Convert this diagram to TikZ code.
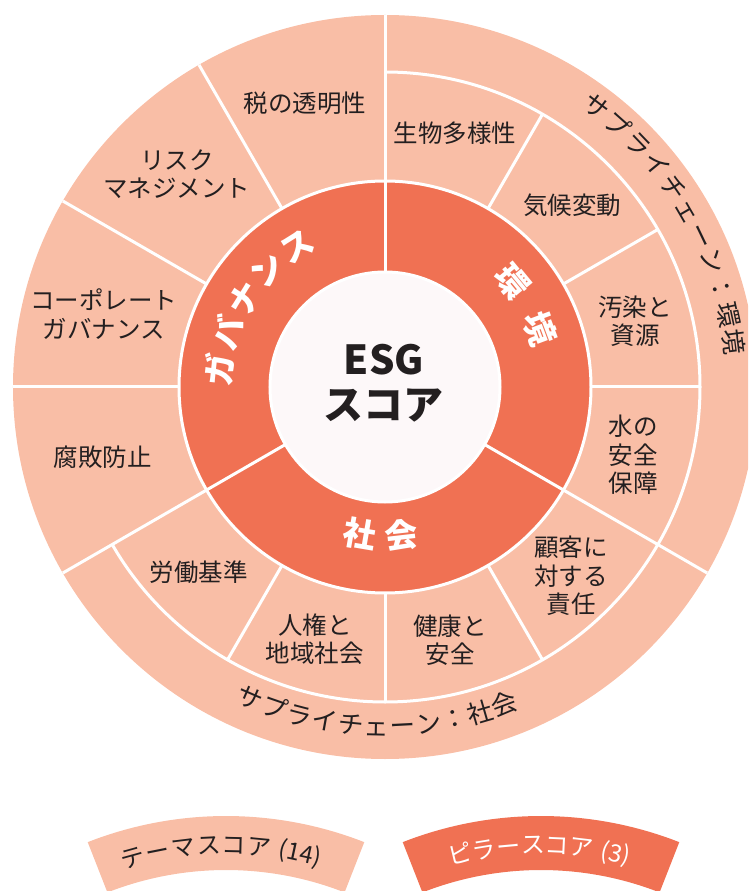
\documentclass[tikz,border=0pt]{standalone}
\usepackage{fontspec}
\setmainfont{Noto Sans CJK JP}
\definecolor{light}{HTML}{F9BEA6}
\definecolor{dark}{HTML}{F07153}
\definecolor{corefill}{HTML}{FDF8F9}
\definecolor{ink}{HTML}{231F20}
\begin{document}
\begin{tikzpicture}[x=1pt,y=1pt,
  sep/.style={white, line width=3pt},
  theme/.style={text=ink, font=\fontsize{24.5}{28.5}\selectfont, align=center, inner sep=0pt},
  pillar/.style={text=white, font=\bfseries\fontsize{33}{33}\selectfont, inner sep=0pt, text height=0.8em, text depth=0.08em},
  arctxt/.style={text=ink, font=\fontsize{25.5}{25.5}\selectfont, inner sep=0pt, text height=0.8em, text depth=0.08em},
  legtxt/.style={font=\fontsize{24}{24}\selectfont, inner sep=0pt, text height=0.8em, text depth=0.08em},
  coretxt/.style={text=ink, font=\bfseries\fontsize{40}{40}\selectfont, inner sep=0pt}
]
\useasboundingbox (-385,-504) rectangle (363,387);
\clip (-385,-504) rectangle (363,387);

% rings
\fill[light] (0,0) circle (372);
\fill[dark] (0,0) circle (206);
\fill[corefill] (0,0) circle (115);

% separators
\draw[sep] (0,0) circle (115);
\draw[sep] (0,0) circle (206);
\draw[sep] (90:315) arc[start angle=90, end angle=-150, radius=315];
\foreach \a in {90,-30,210} \draw[sep] (\a:115) -- (\a:372);
\foreach \a in {120,150,180} \draw[sep] (\a:206) -- (\a:372);
\foreach \a in {60,30,0,-60,-90,-120} \draw[sep] (\a:206) -- (\a:315);

% core
\node[coretxt] (esg) at (-1,27) {ESG};
\node[coretxt] (score) at (-2,-19) {スコア};

% pillar labels
\foreach \c [count=\i] in {ガ,バ,ナ,ン,ス} {
  \pgfmathsetmacro\a{174-(\i-1)*13}
  \pgfmathsetmacro\r{\a-90}
  \node[pillar, rotate=\r] (gov\i) at (\a:157) {\c};
}
\foreach \c [count=\i] in {環,境} {
  \pgfmathsetmacro\a{39.5-(\i-1)*19}
  \pgfmathsetmacro\r{\a-90}
  \node[pillar, rotate=\r] (env\i) at (\a:157) {\c};
}
\foreach \c [count=\i] in {社,会} {
  \pgfmathsetmacro\a{-99.7+(\i-1)*16.2}
  \pgfmathsetmacro\r{\a+90}
  \node[pillar, rotate=\r] (soc\i) at (\a:158) {\c};
}

% theme labels
\node[theme] (t1) at (-80,284) {税の透明性};
\node[theme] (t2) at (-208,213) {リスク\\マネジメント};
\node[theme] (t3) at (-281,73) {コーポレート\\ガバナンス};
\node[theme] (t4) at (-282,-70) {腐敗防止};
\node[theme] (t5) at (-186,-185) {労働基準};
\node[theme] (t6) at (-70,-252) {人権と\\地域社会};
\node[theme] (t7) at (65,-253) {健康と\\安全};
\node[theme] (t8) at (186,-189) {顧客に\\対する\\責任};
\node[theme] (t9) at (248,-68) {水の\\安全\\保障};
\node[theme] (t10) at (250,66) {汚染と\\資源};
\node[theme] (t11) at (187,182) {気候変動};
\node[theme] (t12) at (70,254) {生物多様性};

% supply chain labels
\foreach \c [count=\i] in {サ,プ,ラ,イ,チ,ェ,ー,ン,：,環,境} {
  \pgfmathsetmacro\a{53-(\i-1)*4.57}
  \pgfmathsetmacro\r{\a-90}
  \node[arctxt, rotate=\r] (sce\i) at (\a:345) {\c};
}
\foreach \c [count=\i] in {サ,プ,ラ,イ,チ,ェ,ー,ン,：,社,会} {
  \pgfmathsetmacro\a{-113.4+(\i-1)*4.4}
  \pgfmathsetmacro\r{\a+90}
  \node[arctxt, rotate=\r] (scs\i) at (\a:345) {\c};
}

% legend
\begin{scope}[shift={(-159,-808)}]
  \fill[light] (68.6:325) arc[start angle=68.6, end angle=111.4, radius=325]
    -- (111.4:379) arc[start angle=111.4, end angle=68.6, radius=379] -- cycle;
  \foreach \dx/\c [count=\i] in {-92/テ,-67/ー,-42/マ,-17/ス,8/コ,33/ア,73/(14)} {
    \pgfmathsetmacro\a{90-asin(\dx/345)}
    \pgfmathsetmacro\r{\a-90}
    \node[legtxt, text=ink, rotate=\r] (lt\i) at (\a:345) {\c};
  }
\end{scope}
\begin{scope}[shift={(156,-808)}]
  \fill[dark] (68.6:325) arc[start angle=68.6, end angle=111.4, radius=325]
    -- (111.4:379) arc[start angle=111.4, end angle=68.6, radius=379] -- cycle;
  \foreach \dx/\c [count=\i] in {-80/ピ,-56/ラ,-32/ー,-8/ス,16/コ,40/ア,74/(3)} {
    \pgfmathsetmacro\a{90-asin(\dx/345)}
    \pgfmathsetmacro\r{\a-90}
    \node[legtxt, text=white, rotate=\r] (rt\i) at (\a:345) {\c};
  }
\end{scope}
\end{tikzpicture}
\end{document}
